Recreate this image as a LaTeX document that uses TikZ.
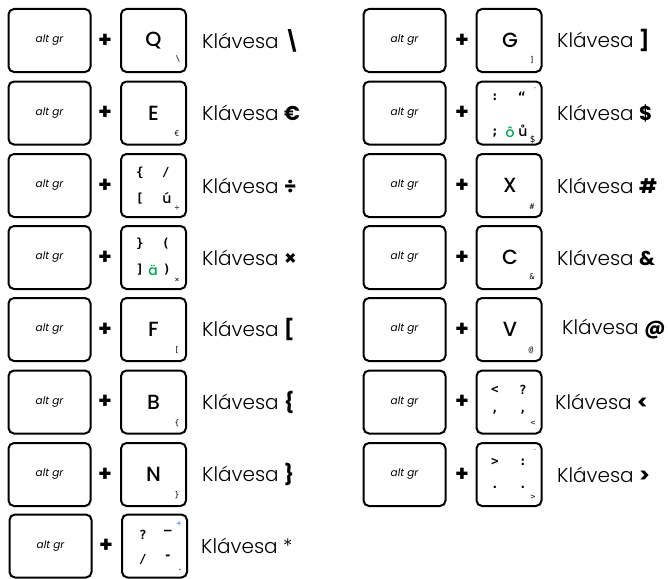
\documentclass[tikz,border=0pt]{standalone}
\usepackage{fontspec}
\setmainfont{Poppins}
\newfontfamily\lightfont{Poppins Light}[BoldFont=Poppins Bold]
\newfontfamily\medfont{Poppins Medium}
\newfontfamily\legfont{DejaVu Sans Mono}
\definecolor{kgreen}{RGB}{0,166,81}
\definecolor{kblue}{RGB}{60,130,230}
\tikzset{
  keyframe/.style={draw, line width=2pt, rounded corners=5.5pt, minimum height=63pt, inner sep=0pt},
  altkey/.style={keyframe, minimum width=82pt, font=\itshape\fontsize{10.5}{10.5}\selectfont},
  charkey/.style={keyframe, minimum width=65pt},
  plussign/.style={inner sep=0pt, font=\bfseries\fontsize{22}{22}\selectfont},
  biglet/.style={inner sep=0pt, font=\medfont\fontsize{20.5}{20.5}\selectfont},
  subch/.style={inner sep=0pt, font=\legfont\fontsize{8}{8}\selectfont},
  leg/.style={inner sep=0pt, font=\legfont\bfseries\fontsize{12.5}{12.5}\selectfont},
  accleg/.style={inner sep=0pt, font=\medfont\fontsize{14}{14}\selectfont},
  keytext/.style={anchor=west, inner sep=0pt, font=\lightfont\fontsize{20}{20}\selectfont},
}
\begin{document}
\begin{tikzpicture}[x=1pt,y=-1pt]
\useasboundingbox (0,0) rectangle (668,578);
% ---------- left column ----------
% row 1
\node[altkey] (a1) at (49.5,40.5) {alt gr};
\node[plussign] (p1) at (105,40.5) {+};
\node[charkey] (k1) at (153.5,40.5) {};
\node[biglet] (l1) at (k1.center) {Q};
\node[subch] (s1) at ([shift={(24.5,18)}]k1.center) {\textbackslash};
\node[keytext] (t1) at (202,40.5) {Klávesa \textbf{\textbackslash}};
% row 2
\node[altkey] (a2) at (49.5,113) {alt gr};
\node[plussign] (p2) at (105,113) {+};
\node[charkey] (k2) at (153.5,113) {};
\node[biglet] (l2) at (k2.center) {E};
\node[subch] (s2) at ([shift={(23.5,21)}]k2.center) {€};
\node[keytext] (t2) at (202,113) {Klávesa \textbf{€}};
% row 3
\node[altkey] (a3) at (49.5,185.5) {alt gr};
\node[plussign] (p3) at (105,185.5) {+};
\node[charkey] (k3) at (153.5,185.5) {};
\node[leg] (g3a) at ([shift={(-13.5,-12.5)}]k3.center) {\{};
\node[leg] (g3b) at ([shift={(12.5,-12.5)}]k3.center) {/};
\node[leg] (g3c) at ([shift={(-13.5,13.5)}]k3.center) {[};
\node[accleg] (g3d) at ([shift={(13.5,12.5)}]k3.center) {ú};
\node[subch] (s3) at ([shift={(23.5,22.5)}]k3.center) {÷};
\node[keytext] (t3) at (202,185.5) {Klávesa \textbf{÷}};
% row 4
\node[altkey] (a4) at (49.5,257.5) {alt gr};
\node[plussign] (p4) at (105,257.5) {+};
\node[charkey] (k4) at (153.5,257.5) {};
\node[leg] (g4a) at ([shift={(-13.5,-13.5)}]k4.center) {\}};
\node[leg] (g4b) at ([shift={(12.5,-13.5)}]k4.center) {(};
\node[leg] (g4c) at ([shift={(-13.5,12.5)}]k4.center) {]};
\node[accleg, text=kgreen] (g4d) at ([shift={(-0.5,12.5)}]k4.center) {ä};
\node[leg] (g4e) at ([shift={(13.5,12.5)}]k4.center) {)};
\node[subch] (s4) at ([shift={(23.5,22.5)}]k4.center) {×};
\node[keytext] (t4) at (202,257.5) {Klávesa \textbf{×}};
% row 5
\node[altkey] (a5) at (49.5,329.5) {alt gr};
\node[plussign] (p5) at (105,329.5) {+};
\node[charkey] (k5) at (153.5,329.5) {};
\node[biglet] (l5) at (k5.center) {F};
\node[subch] (s5) at ([shift={(23.5,20.5)}]k5.center) {[};
\node[keytext] (t5) at (202,329.5) {Klávesa \textbf{[}};
% row 6
\node[altkey] (a6) at (49.5,402) {alt gr};
\node[plussign] (p6) at (105,402) {+};
\node[charkey] (k6) at (153.5,402) {};
\node[biglet] (l6) at (k6.center) {B};
\node[subch] (s6) at ([shift={(23.5,21)}]k6.center) {\{};
\node[keytext] (t6) at (202,402) {Klávesa \textbf{\{}};
% row 7
\node[altkey] (a7) at (49.5,474.5) {alt gr};
\node[plussign] (p7) at (105,474.5) {+};
\node[charkey] (k7) at (153.5,474.5) {};
\node[biglet] (l7) at (k7.center) {N};
\node[subch] (s7) at ([shift={(23.5,20.5)}]k7.center) {\}};
\node[keytext] (t7) at (202,474.5) {Klávesa \textbf{\}}};
% row 8
\node[altkey] (a8) at (50.5,546) {alt gr};
\node[plussign] (p8) at (106,546) {+};
\node[charkey] (k8) at (154.5,546) {};
\node[leg] (g8a) at ([shift={(-11.5,-11.5)}]k8.center) {?};
\node[leg] (g8b) at ([shift={(13.5,-13.5)}]k8.center) {—};
\node[subch, text=kblue, font=\legfont\fontsize{9}{9}\selectfont] (g8c) at ([shift={(24.5,-22.5)}]k8.center) {+};
\node[leg] (g8d) at ([shift={(-11.5,13.5)}]k8.center) {/};
\node[leg] (g8e) at ([shift={(13.5,11.5)}]k8.center) {-};
\node[subch] (s8) at ([shift={(25.5,23.5)}]k8.center) {.};
\node[keytext] (t8) at (201,546) {Klávesa *};
% ---------- right column ----------
% row 1
\node[altkey] (b1) at (404.5,40.5) {alt gr};
\node[plussign] (q1) at (462,40.5) {+};
\node[charkey] (m1) at (509,40.5) {};
\node[biglet] (n1) at ([shift={(1,0)}]m1.center) {G};
\node[subch] (r1) at ([shift={(23,19.5)}]m1.center) {]};
\node[keytext] (u1) at (557,40.5) {Klávesa \textbf{]}};
% row 2
\node[altkey] (b2) at (404.5,113) {alt gr};
\node[plussign] (q2) at (462,113) {+};
\node[charkey] (m2) at (509,113) {};
\node[leg] (h2a) at ([shift={(-14,-16)}]m2.center) {:};
\node[leg] (h2b) at ([shift={(13,-16)}]m2.center) {“};
\node[subch, text=kblue] (h2c) at ([shift={(26,-23.5)}]m2.center) {-};
\node[leg] (h2d) at ([shift={(-14,20)}]m2.center) {;};
\node[accleg, text=kgreen] (h2e) at ([shift={(1,19)}]m2.center) {ô};
\node[accleg] (h2f) at ([shift={(14,18)}]m2.center) {ů};
\node[subch, font=\legfont\fontsize{9}{9}\selectfont] (r2) at ([shift={(23.5,27)}]m2.center) {\$};
\node[keytext] (u2) at (557,113) {Klávesa \textbf{\$}};
% row 3
\node[altkey] (b3) at (404.5,185.5) {alt gr};
\node[plussign] (q3) at (462,185.5) {+};
\node[charkey] (m3) at (509,185.5) {};
\node[biglet] (n3) at ([shift={(1,0)}]m3.center) {X};
\node[subch] (r3) at ([shift={(23,21.5)}]m3.center) {\#};
\node[keytext] (u3) at (557,185.5) {Klávesa \textbf{\#}};
% row 4
\node[altkey] (b4) at (404.5,257.5) {alt gr};
\node[plussign] (q4) at (462,257.5) {+};
\node[charkey] (m4) at (509,257.5) {};
\node[biglet] (n4) at ([shift={(1,0)}]m4.center) {C};
\node[subch] (r4) at ([shift={(23,19.5)}]m4.center) {\&};
\node[keytext] (u4) at (557,257.5) {Klávesa \textbf{\&}};
% row 5
\node[altkey] (b5) at (404.5,329.5) {alt gr};
\node[plussign] (q5) at (462,329.5) {+};
\node[charkey] (m5) at (509,329.5) {};
\node[biglet] (n5) at ([shift={(1,0)}]m5.center) {V};
\node[subch] (r5) at ([shift={(22,20.5)}]m5.center) {@};
\node[keytext] (u5) at (562,329.5) {Klávesa \textbf{@}};
% row 6
\node[altkey] (b6) at (404.5,402) {alt gr};
\node[plussign] (q6) at (462,402) {+};
\node[charkey] (m6) at (509,402) {};
\node[leg] (h6a) at ([shift={(-14,-12.5)}]m6.center) {<};
\node[leg] (h6b) at ([shift={(14,-12.5)}]m6.center) {?};
\node[leg] (h6c) at ([shift={(-14,10.5)}]m6.center) {,};
\node[leg] (h6d) at ([shift={(14,10.5)}]m6.center) {,};
\node[subch] (r6) at ([shift={(24,21.5)}]m6.center) {<};
\node[keytext] (u6) at (555,402) {Klávesa \textbf{<}};
% row 7
\node[altkey] (b7) at (404.5,474.5) {alt gr};
\node[plussign] (q7) at (462,474.5) {+};
\node[charkey] (m7) at (509,474.5) {};
\node[leg] (h7a) at ([shift={(-14,-12.5)}]m7.center) {>};
\node[leg] (h7b) at ([shift={(14,-12.5)}]m7.center) {:};
\node[subch, text=kblue] (h7c) at ([shift={(26,-24.5)}]m7.center) {.};
\node[leg] (h7d) at ([shift={(-14,12.5)}]m7.center) {.};
\node[leg] (h7e) at ([shift={(14,12.5)}]m7.center) {.};
\node[subch] (r7) at ([shift={(24,22.5)}]m7.center) {>};
\node[keytext] (u7) at (557,474.5) {Klávesa \textbf{>}};
\end{tikzpicture}
\end{document}
